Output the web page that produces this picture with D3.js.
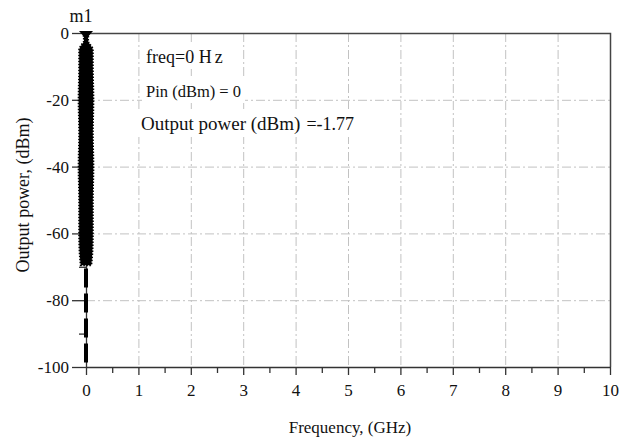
<!DOCTYPE html>
<html>
<head>
<meta charset="utf-8">
<script src="https://cdn.jsdelivr.net/npm/d3@7"></script>
<style>
  body { margin: 0; background: #fff; }
  text { font-family: "Liberation Serif", "Times New Roman", serif; fill: #111; }
</style>
</head>
<body>
<div class="chart"></div>
<script>
// x ticks (GHz) and y ticks (dBm)
var xTicks = [0, 1, 2, 3, 4, 5, 6, 7, 8, 9, 10];
var yTicks = [0, -20, -40, -60, -80, -100];
var yMinor = [-10, -30, -50, -70, -90];
var xMinor = [0.5, 1.5, 2.5, 3.5, 4.5, 5.5, 6.5, 7.5, 8.5, 9.5];

// dense spectrum band near 0 GHz: power level and band half width (GHz)
var bandPower = [0, -1.5, -2.5, -3.5, -5, -10, -20, -30, -40, -50, -60, -66, -69.5];
var bandHalf  = [0.06, 0.04, 0.04, 0.08, 0.13, 0.13, 0.14, 0.13, 0.14, 0.13, 0.13, 0.12, 0.1];

// dashed tail under the band
var tailFreq = [0, 0];
var tailPower = [-70.5, -100];

// marker m1
var markerName = "m1";
var markerFreq = 0;
var markerPower = -1.77;
var readLabels = ["freq=0 H", "Pin (dBm) = 0", "Output power (dBm)"];
var readValues = ["z", "", "=-1.77"];

var W = 633, H = 438;
var svg = d3.select(".chart").append("svg")
            .attr("width", W)
            .attr("height", H);

var x = d3.scaleLinear().domain([0, 10]).range([86, 610]);
var y = d3.scaleLinear().domain([-100, 0]).range([367, 33]);

// grid
var grid = svg.append("g")
              .attr("stroke", "#c2c2c2")
              .attr("stroke-width", 1)
              .attr("stroke-dasharray", "9,3,2,3");
grid.selectAll(".gx")
    .data(xTicks.slice(1, -1))
    .enter().append("line")
    .attr("x1", function(d){ return x(d) + 0.5; })
    .attr("x2", function(d){ return x(d) + 0.5; })
    .attr("y1", y(0))
    .attr("y2", y(-100));
grid.selectAll(".gy")
    .data(yTicks.slice(1, -1))
    .enter().append("line")
    .attr("y1", function(d){ return y(d) + 0.5; })
    .attr("y2", function(d){ return y(d) + 0.5; })
    .attr("x1", x(0))
    .attr("x2", x(10));

// frame top / right
svg.append("path")
   .attr("d", "M" + x(0) + "," + (y(0) + 0.5) + "H" + (x(10) + 0.5) + "V" + y(-100))
   .attr("fill", "none")
   .attr("stroke", "#444")
   .attr("stroke-width", 1.5);

// readout text with white backing
var texts = svg.append("g");
var rows = [
  {i: 0, x: 146, y: 63, s: 18, vx: 3, vs: 18},
  {i: 1, x: 146, y: 97, s: 16.5, vx: 0, vs: 16.5},
  {i: 2, x: 141, y: 130, s: 19, vx: 6, vs: 18}
];
rows.forEach(function(r){
  var bg = texts.append("rect").attr("fill", "#fff");
  var t = texts.append("text")
               .attr("x", r.x)
               .attr("y", r.y)
               .attr("font-size", r.s + "px")
               .text(readLabels[r.i]);
  t.append("tspan")
   .attr("dx", r.vx)
   .attr("font-size", r.vs + "px")
   .text(readValues[r.i]);
  var b = t.node().getBBox();
  bg.attr("x", b.x - 4).attr("y", b.y - 4)
    .attr("width", b.width + 8).attr("height", b.height + 6);
});

// axes
var fmt = function(d){ return String(d); };
var xAxis = svg.append("g")
               .attr("transform", "translate(0," + y(-100) + ")")
               .call(d3.axisBottom(x).tickValues(xTicks).tickSize(8).tickSizeOuter(0).tickFormat(fmt));
var xAxisMinor = svg.append("g")
               .attr("transform", "translate(0," + y(-100) + ")")
               .call(d3.axisBottom(x).tickValues(xMinor).tickSize(6).tickFormat(""));
xAxisMinor.select(".domain").remove();

var yAxis = svg.append("g")
               .attr("transform", "translate(" + x(0) + ",0)")
               .call(d3.axisLeft(y).tickValues(yTicks).tickSize(14).tickSizeOuter(0).tickPadding(3).tickFormat(fmt));
var yAxisMinor = svg.append("g")
               .attr("transform", "translate(" + x(0) + ",0)")
               .call(d3.axisLeft(y).tickValues(yMinor).tickSize(7).tickFormat(""));
yAxisMinor.select(".domain").remove();

svg.selectAll(".domain, .tick line")
   .attr("stroke", "#333")
   .attr("stroke-width", 1.3);
xAxis.selectAll("text")
     .attr("font-size", "17px")
     .attr("font-family", "Liberation Serif, serif")
     .attr("dy", "1.05em")
     .attr("fill", "#111");
yAxis.selectAll("text")
     .attr("font-size", "17px")
     .attr("font-family", "Liberation Serif, serif")
     .attr("fill", "#111");

// dashed tail
svg.append("path")
   .datum(d3.zip(tailFreq, tailPower))
   .attr("d", d3.line().x(function(d){ return x(d[0]); }).y(function(d){ return y(d[1]); }))
   .attr("stroke", "#000")
   .attr("stroke-width", 4)
   .attr("stroke-dasharray", "19,6")
   .attr("fill", "none");

// dense band
var band = d3.area()
             .x0(function(d){ return x(-d[1]); })
             .x1(function(d){ return x(d[1]); })
             .y(function(d){ return y(d[0]); })
             .curve(d3.curveMonotoneY);
svg.append("path")
   .datum(d3.zip(bandPower, bandHalf))
   .attr("d", band)
   .attr("fill", "#000")
   .attr("stroke", "#000")
   .attr("stroke-width", 2)
   .attr("stroke-dasharray", "1.5,1.5");

// marker triangle (tip on the marker value)
var mx = x(markerFreq), my = y(markerPower);
svg.append("path")
   .attr("d", "M" + (mx - 7) + "," + (my - 8) + "L" + (mx + 7) + "," + (my - 8) + "L" + mx + "," + my + "Z")
   .attr("fill", "#000");

svg.append("text")
   .attr("x", mx - 5)
   .attr("y", 22)
   .attr("text-anchor", "middle")
   .attr("font-size", "18px")
   .text(markerName);

// axis titles
svg.append("text")
   .attr("x", 350)
   .attr("y", 433)
   .attr("text-anchor", "middle")
   .attr("font-size", "17px")
   .text("Frequency, (GHz)");

svg.append("text")
   .attr("transform", "translate(29,195) rotate(-90)")
   .attr("text-anchor", "middle")
   .attr("font-size", "18px")
   .text("Output power, (dBm)");
</script>
</body>
</html>
